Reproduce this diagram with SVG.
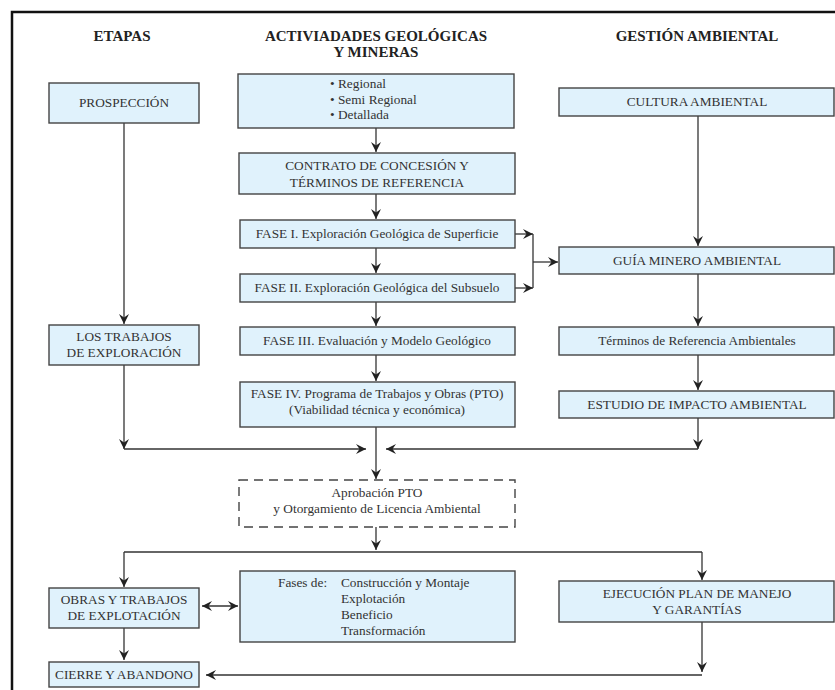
<svg xmlns="http://www.w3.org/2000/svg" width="835" height="690" viewBox="0 0 835 690">
<defs>
<marker id="ah" viewBox="0 0 10 10" refX="10" refY="5" markerWidth="10" markerHeight="10" markerUnits="userSpaceOnUse" orient="auto-start-reverse">
<path d="M0,0 L10,5 L0,10 L3.5,5 z" fill="#222"/>
</marker>
<style>
.box{fill:#e0f2fc;stroke:#444;stroke-width:1.4}
.dash{fill:#fff;stroke:#444;stroke-width:1.4;stroke-dasharray:9,6}
.t{font-family:"Liberation Serif","DejaVu Serif",serif;font-size:13.3px;fill:#333;text-anchor:middle}
.l{text-anchor:start}
.h{font-family:"Liberation Serif","DejaVu Serif",serif;font-size:15px;font-weight:bold;fill:#222;text-anchor:middle}
.c{fill:none;stroke:#333;stroke-width:1.3}
.a{marker-end:url(#ah)}
</style>
</defs>
<rect width="835" height="690" fill="#fff"/>
<path d="M12,700 L12,12 L845,12" fill="none" stroke="#111" stroke-width="2.5"/>

<g id="headers">
<text class="h" x="122" y="41">ETAPAS</text>
<text class="h" x="376" y="41">ACTIVIADADES GEOLÓGICAS</text>
<text class="h" x="376" y="57">Y MINERAS</text>
<text class="h" x="697" y="41">GESTIÓN AMBIENTAL</text>
</g>

<g id="connectors">
<path class="c a" d="M124,123 V324"/>
<path class="c a" d="M124,365 V449"/>
<path class="c a" d="M124,449 H366"/>
<path class="c a" d="M376,128 V152"/>
<path class="c a" d="M376,194 V219"/>
<path class="c a" d="M376,248 V273"/>
<path class="c a" d="M376,302 V326"/>
<path class="c a" d="M376,355 V381"/>
<path class="c a" d="M376,427 V479"/>
<path class="c a" d="M515,234 H533"/>
<path class="c a" d="M515,288 H533"/>
<path class="c" d="M533,234 V288"/>
<path class="c a" d="M533,262 H558"/>
<path class="c a" d="M698,116 V246"/>
<path class="c a" d="M698,274 V326"/>
<path class="c a" d="M698,355 V390"/>
<path class="c a" d="M698,418 V449"/>
<path class="c a" d="M698,449 H386"/>
<path class="c a" d="M376,527 V550"/>
<path class="c" d="M124,552 H702"/>
<path class="c a" d="M124,552 V587"/>
<path class="c a" d="M702,552 V580"/>
<path class="c a" marker-start="url(#ah)" d="M202,606 H238"/>
<path class="c a" d="M124,628 V660"/>
<path class="c a" d="M702,622 V672"/>
<path class="c a" d="M702,675 H206"/>
</g>

<g id="prospeccion">
<rect class="box" x="49" y="83" width="150" height="40"/>
<text class="t" x="124" y="107">PROSPECCIÓN</text>
</g>
<g id="trabajos-exploracion">
<rect class="box" x="49" y="325" width="150" height="40"/>
<text class="t" x="124" y="341">LOS TRABAJOS</text>
<text class="t" x="124" y="357">DE EXPLORACIÓN</text>
</g>
<g id="regional">
<rect class="box" x="238" y="74" width="276" height="54"/>
<text class="t l" x="330" y="88">• Regional</text>
<text class="t l" x="330" y="104">• Semi Regional</text>
<text class="t l" x="330" y="119">• Detallada</text>
</g>
<g id="contrato">
<rect class="box" x="239" y="153" width="276" height="41"/>
<text class="t" x="377" y="170">CONTRATO DE CONCESIÓN Y</text>
<text class="t" x="377" y="187">TÉRMINOS DE REFERENCIA</text>
</g>
<g id="fase1">
<rect class="box" x="240" y="220" width="275" height="28"/>
<text class="t" x="377" y="238">FASE I. Exploración Geológica de Superficie</text>
</g>
<g id="fase2">
<rect class="box" x="240" y="274" width="275" height="28"/>
<text class="t" x="377" y="292">FASE II. Exploración Geológica del Subsuelo</text>
</g>
<g id="fase3">
<rect class="box" x="240" y="327" width="275" height="28"/>
<text class="t" x="377" y="345">FASE III. Evaluación y Modelo Geológico</text>
</g>
<g id="fase4">
<rect class="box" x="240" y="382" width="275" height="45"/>
<text class="t" x="377" y="398">FASE IV. Programa de Trabajos y Obras (PTO)</text>
<text class="t" x="377" y="414">(Viabilidad técnica y económica)</text>
</g>
<g id="aprobacion">
<rect class="dash" x="239" y="480" width="276" height="47"/>
<text class="t" x="377" y="497">Aprobación PTO</text>
<text class="t" x="377" y="513">y Otorgamiento de Licencia Ambiental</text>
</g>
<g id="cultura">
<rect class="box" x="559" y="88" width="275" height="28"/>
<text class="t" x="697" y="106">CULTURA AMBIENTAL</text>
</g>
<g id="guia">
<rect class="box" x="559" y="247" width="275" height="27"/>
<text class="t" x="697" y="265">GUÍA MINERO AMBIENTAL</text>
</g>
<g id="terminos">
<rect class="box" x="559" y="327" width="275" height="28"/>
<text class="t" x="697" y="345">Términos de Referencia Ambientales</text>
</g>
<g id="estudio">
<rect class="box" x="559" y="391" width="275" height="27"/>
<text class="t" x="697" y="409">ESTUDIO DE IMPACTO AMBIENTAL</text>
</g>
<g id="obras">
<rect class="box" x="49" y="588" width="150" height="40"/>
<text class="t" x="124" y="604">OBRAS Y TRABAJOS</text>
<text class="t" x="124" y="620">DE EXPLOTACIÓN</text>
</g>
<g id="fases">
<rect class="box" x="240" y="571" width="275" height="71"/>
<text class="t l" x="278" y="587">Fases de:</text>
<text class="t l" x="341" y="587">Construcción y Montaje</text>
<text class="t l" x="341" y="603">Explotación</text>
<text class="t l" x="341" y="619">Beneficio</text>
<text class="t l" x="341" y="635">Transformación</text>
</g>
<g id="ejecucion">
<rect class="box" x="559" y="581" width="275" height="41"/>
<text class="t" x="697" y="598">EJECUCIÓN PLAN DE MANEJO</text>
<text class="t" x="697" y="614">Y GARANTÍAS</text>
</g>
<g id="cierre">
<rect class="box" x="49" y="662" width="150" height="25"/>
<text class="t" x="124" y="679">CIERRE Y ABANDONO</text>
</g>
</svg>
